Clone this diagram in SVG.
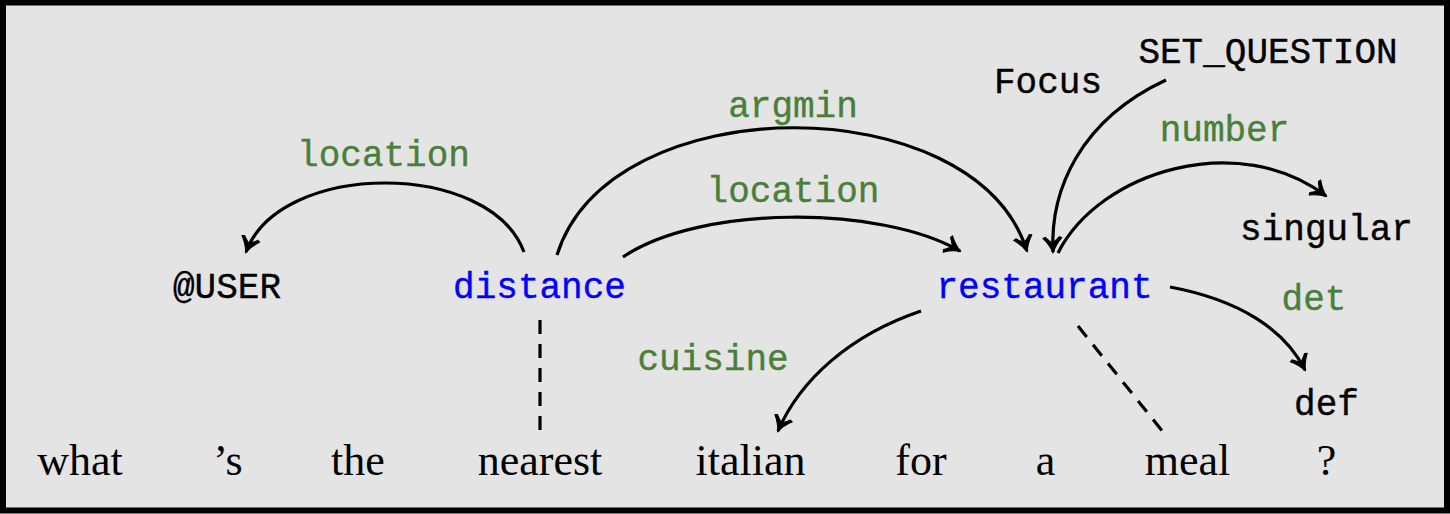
<svg xmlns="http://www.w3.org/2000/svg" width="1450" height="514" viewBox="0 0 1450 514">
<style>
.tt{font-family:"Liberation Mono","DejaVu Sans Mono",monospace;font-size:36px;text-anchor:middle;stroke-width:0.4}
.lbl{fill:#4a7f3a;stroke:#4a7f3a}
.key{fill:#0000ff;stroke:#0000ff}
.blk{fill:#000;stroke:#000}
.word{font-family:"Liberation Serif","DejaVu Serif",serif;font-size:44px;text-anchor:middle;fill:#000}
.edge{fill:none;stroke:#000;stroke-width:3.2;marker-end:url(#arr)}
.dash{fill:none;stroke:#000;stroke-width:3.2;stroke-dasharray:14,10}
</style>
<defs>
<marker id="arr" viewBox="-17 -11 19 22" markerWidth="19" markerHeight="22" refX="0" refY="0" orient="auto" markerUnits="userSpaceOnUse">
<path d="M1,0 Q-7,-2.8 -14,-9.5 L-15,-7 Q-10,-2 -9,0 Q-10,2 -15,7 L-14,9.5 Q-7,2.8 1,0 Z" fill="#000" stroke="#000" stroke-width="1" stroke-linejoin="round"/>
</marker>
</defs>
<rect x="3" y="2.5" width="1444" height="508" fill="#e4e4e4" stroke="#000" stroke-width="6"/>
<g id="connectors">
<path class="edge" d="M524,252 C490,160 280,160 246,252"/>
<path class="edge" d="M557,255 C610,86 975,86 1027,251"/>
<path class="edge" d="M623,257 C700,205 880,205 960,251"/>
<path class="edge" d="M1166,80 C1080,120 1050,190 1053,252"/>
<path class="edge" d="M1058,253 C1100,170 1240,130 1326,196"/>
<path class="edge" d="M1170,287 C1240,300 1285,330 1305,370"/>
<path class="edge" d="M921,311 C850,335 800,380 778,431"/>
<path class="dash" d="M540,320 L540,432"/>
<path class="dash" d="M1078,326 L1163,432"/>
<text class="tt lbl" x="383.5" y="166">location</text>
<text class="tt lbl" x="793" y="117">argmin</text>
<text class="tt lbl" x="793" y="202">location</text>
<text class="tt lbl" x="1224.5" y="141">number</text>
<text class="tt lbl" x="1314" y="310">det</text>
<text class="tt lbl" x="713" y="370">cuisine</text>
</g>
<g id="n-focus"><text class="tt blk" x="1048" y="93">Focus</text></g>
<g id="n-setq"><text class="tt blk" x="1268" y="63">SET_QUESTION</text></g>
<g id="n-singular"><text class="tt blk" x="1326.5" y="240">singular</text></g>
<g id="n-user"><text class="tt blk" x="227" y="298">@USER</text></g>
<g id="n-distance"><text class="tt key" x="539.5" y="298">distance</text></g>
<g id="n-restaurant"><text class="tt key" x="1044.5" y="298">restaurant</text></g>
<g id="n-def"><text class="tt blk" x="1326.5" y="415">def</text></g>
<g id="words">
<text class="word" x="80" y="475">what</text>
<text class="word" x="228" y="475">’s</text>
<text class="word" x="358" y="475">the</text>
<text class="word" x="540" y="475">nearest</text>
<text class="word" x="750.5" y="475">italian</text>
<text class="word" x="921" y="475">for</text>
<text class="word" x="1045.5" y="475">a</text>
<text class="word" x="1187.5" y="475">meal</text>
<text class="word" x="1326.5" y="475">?</text>
</g>
</svg>
